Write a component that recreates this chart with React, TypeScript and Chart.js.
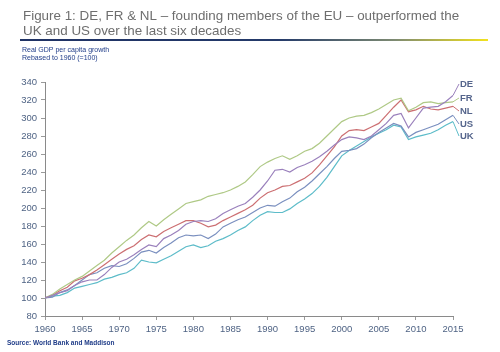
import React, { useEffect, useRef } from "react";
import { Chart, registerables } from "chart.js";

Chart.register(...registerables);

const years: number[] = [];
for (let y = 1960; y <= 2015; y++) years.push(y);

const seriesNames = ["DE", "FR", "NL", "US", "UK"];

const DE = [100,103,106,108,114,118,120,120,126,134,140,143,148,154,159,157,166,170,175,182,185,186,185,188,194,198,202,205,212,220,230,242,243,240,245,248,252,257,263,270,276,279,278,276,280,287,294,303,305,289,300,311,312,313,318,325];
const FR = [100,104,110,115,120,124,130,136,142,150,157,164,170,178,185,180,187,193,199,205,207,209,213,215,217,220,224,229,237,246,251,255,258,254,258,263,266,272,280,288,296,300,302,303,306,310,315,320,322,308,312,317,318,316,317,318];
const NL = [100,103,108,112,119,122,126,131,137,143,149,154,158,165,170,168,174,178,182,186,186,183,179,181,186,190,194,198,203,211,217,220,224,225,229,233,239,248,258,268,280,286,287,286,290,294,303,312,320,307,309,313,310,309,311,313];
const US = [100,101,106,109,114,120,126,128,133,136,135,138,144,151,153,150,156,161,167,170,169,170,166,171,179,183,187,190,195,200,203,202,207,211,218,223,230,238,246,255,263,264,266,271,278,284,289,294,291,279,284,287,290,293,298,303];
const UK = [100,102,103,106,111,113,115,117,121,123,126,128,133,142,140,139,143,147,152,157,159,156,158,163,166,170,175,179,186,192,196,195,195,199,205,210,216,224,234,246,258,264,269,274,279,283,287,292,290,276,279,281,283,287,292,296];

const seriesValues = [DE, FR, NL, US, UK];
const seriesColors = ["#9a80bc", "#afc986", "#cc6f72", "#7a8fbf", "#5dbcc9"];
const labelY = [84, 98, 111, 124, 136];

const titleLines = [
  "Figure 1: DE, FR & NL \u2013 founding members of the EU \u2013 outperformed the",
  "UK and US over the last six decades",
];
const subtitleLines = ["Real GDP per capita growth", "Rebased to 1960 (=100)"];
const sourceText = "Source: World Bank and Maddison";

const FONT = '"Liberation Sans", Arial, sans-serif';

export default function App() {
  const ref = useRef<HTMLCanvasElement | null>(null);
  useEffect(() => {
    const canvas = ref.current;
    if (!canvas) return;
    const decor = {
      id: "decor",
      afterDraw(chart: any) {
        const ctx = chart.ctx;
        ctx.save();
        ctx.fillStyle = "#6e6e6e";
        ctx.font = `13.4px ${FONT}`;
        ctx.textAlign = "left";
        ctx.textBaseline = "alphabetic";
        ctx.fillText(titleLines[0], 23, 20);
        ctx.fillText(titleLines[1], 23, 35);
        const g = ctx.createLinearGradient(20, 0, 488, 0);
        g.addColorStop(0, "#1f3264");
        g.addColorStop(0.55, "#243a6a");
        g.addColorStop(0.8, "#7d8a72");
        g.addColorStop(1, "#f2e21e");
        ctx.fillStyle = g;
        ctx.fillRect(20, 39, 468, 2);
        ctx.fillStyle = "#1f3c88";
        ctx.font = `7px ${FONT}`;
        ctx.fillText(subtitleLines[0], 22, 52);
        ctx.fillText(subtitleLines[1], 22, 60);
        ctx.font = `bold 6.5px ${FONT}`;
        ctx.fillText(sourceText, 7, 345);
        const xs = chart.scales.x;
        const ys = chart.scales.y;
        const xEnd = xs.getPixelForValue(years[years.length - 1]);
        ctx.font = `bold 9.5px ${FONT}`;
        ctx.textBaseline = "middle";
        seriesNames.forEach((n, i) => {
          const vals = seriesValues[i];
          const yEnd = ys.getPixelForValue(vals[vals.length - 1]);
          ctx.strokeStyle = seriesColors[i];
          ctx.lineWidth = 1;
          ctx.beginPath();
          ctx.moveTo(xEnd, yEnd);
          ctx.lineTo(xEnd + 6, labelY[i]);
          ctx.stroke();
          ctx.fillStyle = "#55658c";
          ctx.fillText(n, xEnd + 7, labelY[i]);
        });
        ctx.restore();
      },
    };
    const chart = new Chart(canvas, {
      type: "line",
      data: {
        datasets: seriesNames.map((n, i) => ({
          label: n,
          data: years.map((x, j) => ({ x, y: seriesValues[i][j] })),
          borderColor: seriesColors[i],
          backgroundColor: seriesColors[i],
          borderWidth: 1.2,
          pointRadius: 0,
          tension: 0,
          fill: false,
        })),
      },
      options: {
        responsive: false,
        animation: false,
        events: [],
        layout: { padding: { left: 0, right: 47, top: 82, bottom: 16 } },
        plugins: { legend: { display: false }, tooltip: { enabled: false }, title: { display: false } },
        scales: {
          x: {
            type: "linear",
            min: 1960,
            max: 2015,
            afterFit: (s: any) => { s.height = 20; },
            ticks: {
              stepSize: 5,
              autoSkip: false,
              maxRotation: 0,
              padding: 4,
              color: "#4f6384",
              font: { family: FONT, size: 9.5 },
              callback: (v: any) => String(v),
            },
            grid: { display: true, drawOnChartArea: false, tickLength: 4, color: "#9a9a9a" },
            border: { color: "#8a8a8a" },
          },
          y: {
            min: 80,
            max: 340,
            afterFit: (s: any) => { s.width = 45; },
            ticks: {
              stepSize: 20,
              padding: 4,
              color: "#4f6384",
              font: { family: FONT, size: 9.5 },
            },
            grid: { display: true, drawOnChartArea: false, tickLength: 4, color: "#9a9a9a" },
            border: { color: "#8a8a8a" },
          },
        },
      },
      plugins: [decor],
    } as any);
    return () => chart.destroy();
  }, []);
  return (
    <div style={{ position: "absolute", left: 0, top: 0, width: 500, height: 352, background: "#fff" }}>
      <canvas ref={ref} width={500} height={352} style={{ width: 500, height: 352, display: "block" }} />
    </div>
  );
}
